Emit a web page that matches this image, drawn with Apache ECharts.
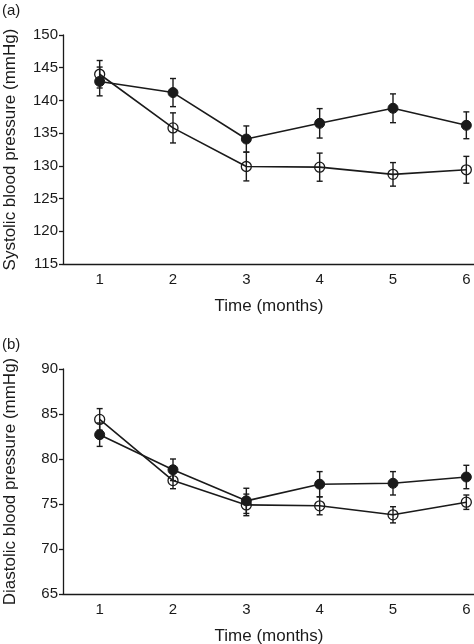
<!DOCTYPE html>
<html><head><meta charset="utf-8">
<script src="https://cdn.jsdelivr.net/npm/echarts@6/dist/echarts.min.js"></script>
<style>html,body{margin:0;padding:0;background:#fff}#c{width:474px;height:644px}</style>
</head><body><div id="c"></div>
<script>
const months = ['1','2','3','4','5','6'];
const sysFilled = [142.9, 141.2, 134.1, 136.5, 138.8, 136.2];
const sysFilledSE = [2.2, 2.15, 2.0, 2.25, 2.2, 2.05];
const sysOpen = [144.0, 135.8, 129.9, 129.8, 128.7, 129.4];
const sysOpenSE = [2.1, 2.3, 2.2, 2.15, 1.8, 2.05];
const diaFilled = [82.7, 78.8, 75.35, 77.2, 77.3, 78.0];
const diaFilledSE = [1.3, 1.2, 1.4, 1.4, 1.3, 1.3];
const diaOpen = [84.4, 77.6, 74.9, 74.8, 73.8, 75.2];
const diaOpenSE = [1.2, 0.9, 1.2, 1.0, 0.9, 0.8];

const FONT = 'Liberation Sans';
const INK = '#1a1a1a';

function errData(vals, se){ return vals.map((v,i)=>[i, v-se[i], v+se[i]]); }
function errSeries(vals, se, gi){
  return {
    type:'custom', xAxisIndex:gi, yAxisIndex:gi, z:1, silent:true, clip:false,
    data: errData(vals, se),
    renderItem: function(params, api){
      const lo = api.coord([api.value(0), api.value(1)]);
      const hi = api.coord([api.value(0), api.value(2)]);
      const w = 3;
      const st = {stroke:INK, lineWidth:1.4};
      return {type:'group', children:[
        {type:'line', shape:{x1:lo[0],y1:lo[1],x2:hi[0],y2:hi[1]}, style:st},
        {type:'line', shape:{x1:lo[0]-w,y1:lo[1],x2:lo[0]+w,y2:lo[1]}, style:st},
        {type:'line', shape:{x1:hi[0]-w,y1:hi[1],x2:hi[0]+w,y2:hi[1]}, style:st}
      ]};
    }
  };
}
function lineSeries(vals, filled, gi){
  return {
    type:'line', xAxisIndex:gi, yAxisIndex:gi, z:3, data:vals,
    symbol:'circle', symbolSize:10, showAllSymbol:true, clip:false,
    lineStyle:{color:INK, width:1.6},
    itemStyle: filled ? {color:INK, borderColor:INK, borderWidth:1} : {color:'rgba(0,0,0,0)', borderColor:INK, borderWidth:1.3},
    emphasis:{disabled:true}, animation:false
  };
}
function xAxis(gi){
  return {
    type:'category', gridIndex:gi, data:months, boundaryGap:true,
    axisLine:{lineStyle:{color:INK, width:1.3}},
    axisTick:{inside:true, length:4, lineStyle:{color:INK, width:1.3}},
    axisLabel:{color:INK, fontFamily:FONT, fontSize:15, margin:8},
    name:'Time (months)', nameLocation:'middle', nameGap:34,
    nameTextStyle:{color:INK, fontFamily:FONT, fontSize:17, padding:[0,28,0,0]}
  };
}
function yAxis(gi, min, max, name){
  return {
    type:'value', gridIndex:gi, min:min, max:max, interval:5,
    axisLine:{show:true, lineStyle:{color:INK, width:1.3}},
    axisTick:{show:true, inside:false, length:4, lineStyle:{color:INK, width:1.3}},
    axisLabel:{color:INK, fontFamily:FONT, fontSize:15, margin:5},
    splitLine:{show:false},
    name:name, nameLocation:'middle', nameGap:44,
    nameTextStyle:{color:INK, fontFamily:FONT, fontSize:17}
  };
}
const chart = echarts.init(document.getElementById('c'), null, {renderer:'canvas'});
chart.setOption({
  animation:false,
  backgroundColor:'#fff',
  grid:[
    {left:63, top:35, width:440, height:229, containLabel:false, outerBoundsMode:'none'},
    {left:63, top:369, width:440, height:225, containLabel:false, outerBoundsMode:'none'}
  ],
  xAxis:[xAxis(0), xAxis(1)],
  yAxis:[yAxis(0,115,150,'Systolic blood pressure (mmHg)'), yAxis(1,65,90,'Diastolic blood pressure (mmHg)')],
  graphic:[
    {type:'text', left:2, top:3, style:{text:'(a)', fill:INK, font:'15px '+FONT}},
    {type:'text', left:2, top:337, style:{text:'(b)', fill:INK, font:'15px '+FONT}}
  ],
  series:[
    errSeries(sysOpen, sysOpenSE, 0),
    errSeries(sysFilled, sysFilledSE, 0),
    lineSeries(sysOpen, false, 0),
    lineSeries(sysFilled, true, 0),
    errSeries(diaOpen, diaOpenSE, 1),
    errSeries(diaFilled, diaFilledSE, 1),
    lineSeries(diaOpen, false, 1),
    lineSeries(diaFilled, true, 1)
  ]
});
</script></body></html>
